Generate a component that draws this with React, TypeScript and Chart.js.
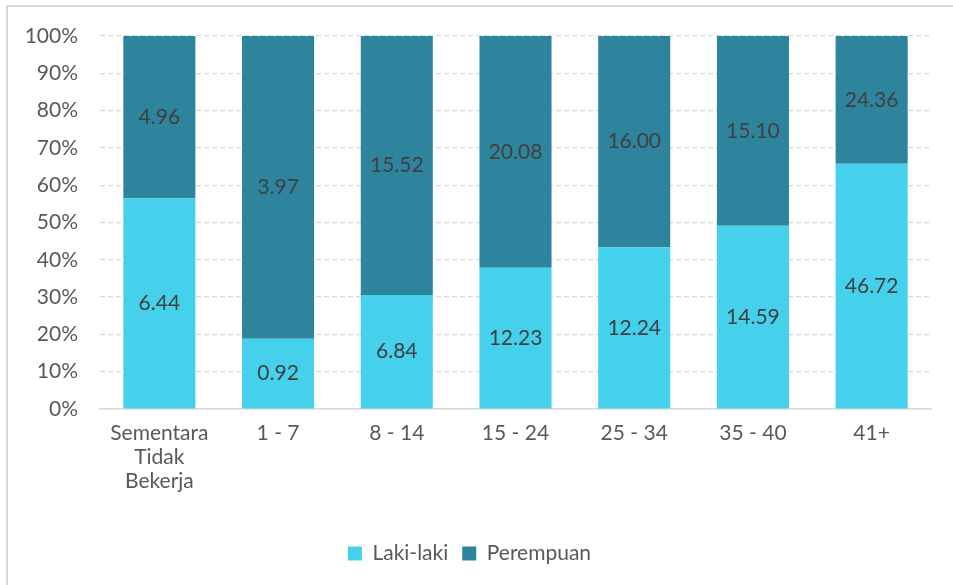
import React, { useEffect, useRef } from "react";
import { Chart, registerables } from "chart.js";

Chart.register(...registerables);

const categories: (string | string[])[] = [
  ["Sementara", "Tidak", "Bekerja"],
  "1 - 7",
  "8 - 14",
  "15 - 24",
  "25 - 34",
  "35 - 40",
  "41+",
];
const lakiLaki = [6.44, 0.92, 6.84, 12.23, 12.24, 14.59, 46.72];
const perempuan = [4.96, 3.97, 15.52, 20.08, 16.0, 15.1, 24.36];
const seriesNames = ["Laki-laki", "Perempuan"];
const yTicks = [0, 10, 20, 30, 40, 50, 60, 70, 80, 90, 100];

const FONT = "Lato, 'Open Sans', sans-serif";
const FS = 21;

export default function App() {
  const ref = useRef<HTMLCanvasElement>(null);
  useEffect(() => {
    if (!ref.current) return;
    const totals = lakiLaki.map((v, i) => v + perempuan[i]);
    const lakiPct = lakiLaki.map((v, i) => (v / totals[i]) * 100);
    const perPct = perempuan.map((v, i) => (v / totals[i]) * 100);
    const raw = [lakiLaki, perempuan];

    const labelPlugin = {
      id: "segLabels",
      afterDatasetsDraw(chart: any) {
        const ctx = chart.ctx;
        ctx.save();
        ctx.font = `${FS}px ${FONT}`;
        ctx.fillStyle = "#404040";
        ctx.textAlign = "center";
        ctx.textBaseline = "middle";
        chart.data.datasets.forEach((ds: any, di: number) => {
          const meta = chart.getDatasetMeta(di);
          meta.data.forEach((el: any, i: number) => {
            const cy = (el.y + el.base) / 2;
            ctx.fillText(raw[di][i].toFixed(2), el.x, cy);
          });
        });
        ctx.restore();
      },
    };

    const chart = new Chart(ref.current, {
      type: "bar",
      data: {
        labels: categories as any,
        datasets: [
          {
            label: seriesNames[0],
            data: lakiPct,
            backgroundColor: "#45D0EC",
            barPercentage: 0.607,
            categoryPercentage: 1,
          },
          {
            label: seriesNames[1],
            data: perPct,
            backgroundColor: "#2E849C",
            barPercentage: 0.607,
            categoryPercentage: 1,
          },
        ],
      },
      options: {
        animation: false,
        responsive: false,
        layout: { padding: { left: 0, right: 22, top: 29, bottom: 10 } },
        plugins: {
          tooltip: { enabled: false },
          legend: {
            position: "bottom",
            labels: {
              font: { family: FONT, size: FS },
              color: "#595959",
              boxWidth: 14,
              boxHeight: 14,
              padding: 14,
            },
          },
        },
        scales: {
          x: {
            stacked: true,
            grid: { display: false },
            border: { color: "#d9d9d9", width: 1.5 },
            afterFit(axis: any) {
              axis.height = 120;
            },
            ticks: {
              font: { family: FONT, size: FS, lineHeight: 1.15 },
              color: "#595959",
              maxRotation: 0,
              autoSkip: false,
              padding: 4,
            },
          },
          y: {
            stacked: true,
            min: 0,
            max: 100,
            afterFit(axis: any) {
              axis.width = 92;
              axis.paddingTop = 0;
              axis.paddingBottom = 0;
            },
            afterBuildTicks(axis: any) {
              axis.ticks = yTicks.map((v) => ({ value: v }));
            },
            grid: { color: "#d9d9d9", lineWidth: 1.2, drawTicks: false },
            border: { display: false, dash: [5, 3] },
            ticks: {
              font: { family: FONT, size: FS },
              color: "#595959",
              padding: 22,
              callback: (v: any) => v + "%",
            },
          },
        },
      },
      plugins: [labelPlugin],
    });
    return () => chart.destroy();
  }, []);

  return (
    <div
      style={{
        position: "absolute",
        left: 6,
        top: 5,
        width: 960,
        height: 600,
        border: "2px solid #d9d9d9",
        boxSizing: "border-box",
        background: "#fff",
      }}
    >
      <canvas ref={ref} width={945} height={577} style={{ display: "block" }} />
    </div>
  );
}
